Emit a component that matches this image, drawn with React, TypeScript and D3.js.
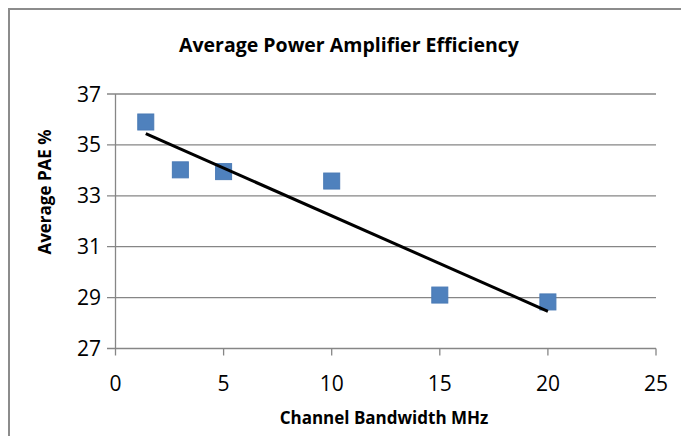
import React from "react";
import * as d3 from "d3";

const bandwidth = [1.4, 3, 5, 10, 15, 20];
const pae = [35.9, 34.02, 33.95, 33.58, 29.1, 28.83];
const xTicks = [0, 5, 10, 15, 20, 25];
const yTicks = [27, 29, 31, 33, 35, 37];
const title = "Average Power Amplifier Efficiency";
const xLabel = "Channel Bandwidth MHz";
const yLabel = "Average PAE %";

export default function App() {
  const W = 681, H = 436;
  const x = d3.scaleLinear().domain([0, 25]).range([115.5, 656]);
  const y = d3.scaleLinear().domain([27, 37]).range([348.5, 94]);
  const font = "'Open Sans', 'Noto Sans', sans-serif";

  // linear regression trend line
  const mx = d3.mean(bandwidth)!;
  const my = d3.mean(pae)!;
  let sxy = 0, sxx = 0;
  bandwidth.forEach((b, i) => { sxy += (b - mx) * (pae[i] - my); sxx += (b - mx) ** 2; });
  const slope = sxy / sxx;
  const icpt = my - slope * mx;
  const x0 = d3.min(bandwidth)!, x1 = d3.max(bandwidth)!;
  const trend = d3.line<number>().x(d => x(d)).y(d => y(icpt + slope * d))([x0, x1]) || "";

  const ms = 16;
  return (
    <svg width={W} height={H} style={{ position: "absolute", left: 0, top: 0, background: "#fff" }}>
      <rect x={0} y={0} width={W} height={H} fill="#fff" />
      <path d={`M9,${H} V9 H${W}`} fill="none" stroke="#8c8c8c" strokeWidth={2} />
      <text x={349} y={52} textAnchor="middle" fontFamily={font} fontWeight="bold" fontSize={19.5} fill="#000">{title}</text>
      {yTicks.map(t => (
        <g key={"y" + t}>
          <line x1={107} x2={656} y1={y(t)} y2={y(t)} stroke="#868686" strokeWidth={1.3} />
          <text x={101} y={y(t) + 7.5} textAnchor="end" fontFamily={font} fontSize={21} fill="#000">{t}</text>
        </g>
      ))}
      <line x1={x(0)} x2={x(0)} y1={y(37)} y2={y(27)} stroke="#868686" strokeWidth={1.3} />
      {xTicks.map(t => (
        <g key={"x" + t}>
          <line x1={x(t)} x2={x(t)} y1={y(27)} y2={y(27) + 7} stroke="#868686" strokeWidth={1.3} />
          <text x={x(t)} y={391} textAnchor="middle" fontFamily={font} fontSize={21} fill="#000">{t}</text>
        </g>
      ))}
      {bandwidth.map((b, i) => (
        <rect key={"p" + i} x={x(b) - ms / 2} y={y(pae[i]) - ms / 2} width={ms} height={ms} fill="#4f81bd" stroke="#4a7ab5" strokeWidth={1} />
      ))}
      <path d={trend} fill="none" stroke="#000" strokeWidth={3} />
      <text x={384} y={424} textAnchor="middle" fontFamily={font} fontWeight="bold" fontSize={17} fill="#000">{xLabel}</text>
      <text transform={`translate(51,192) rotate(-90)`} textAnchor="middle" fontFamily={font} fontWeight="bold" fontSize={17} fill="#000">{yLabel}</text>
    </svg>
  );
}
